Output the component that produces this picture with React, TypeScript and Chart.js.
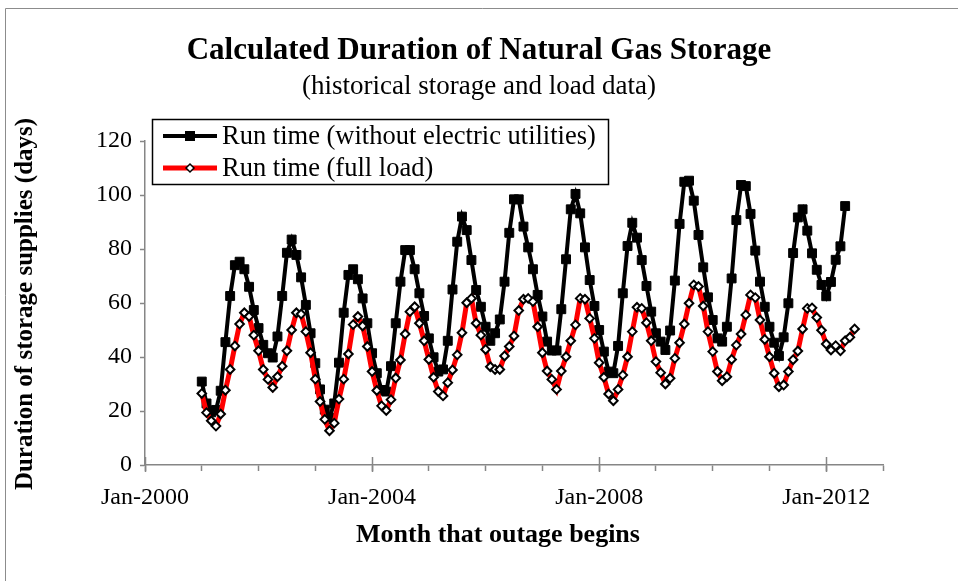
import React, { useEffect, useRef } from 'react';
import { Chart, registerables } from 'chart.js';

Chart.register(...registerables);

// months counted from Jan-2000 (0 = Jan-2000)
const seriesStartMonth = 12; // Jan-2001
const runTimeWithoutElectric = [
  30.9, 22.8, 19.5, 20.4, 27.5, 45.5, 62.6, 74, 75.3, 72.5, 66, 57.4,
  50.7, 44.5, 41.4, 39.8, 47.6, 62.6, 78.6, 83.5, 77.8, 69.5, 59.3, 48.8,
  37.7, 28, 20.5, 17.5, 22.8, 37.9, 56.4, 70.4, 72.5, 68.8, 61.7, 52.5,
  41.4, 34, 27.8, 27.2, 36.6, 52.5, 67.9, 79.6, 79.6, 72.5, 63.6, 55.2,
  46.9, 39.9, 34.6, 35.4, 46, 65, 82.7, 92, 87, 75.9, 64.8, 58.6,
  51.2, 46, 48.8, 53.9, 67.9, 86, 98.4, 98.4, 88.3, 80.6, 72.5, 63,
  55, 45.7, 42.4, 42.4, 57.7, 76.2, 94.7, 100.4, 93.2, 80.6, 68.5, 58.9,
  50, 42, 34.6, 34, 44.1, 63.6, 81.1, 89.7, 84.2, 75.9, 66.3, 56.8,
  48.8, 45.7, 42.6, 49.8, 68.3, 89.3, 104.9, 105.3, 97.9, 85.2, 73.2, 62.1,
  53.7, 46.9, 45.7, 51.2, 69.1, 90.7, 103.7, 103.3, 93, 79.4, 67.9, 58.6,
  51.2, 45.3, 40.4, 47.3, 59.9, 78.5, 91.7, 94.7, 86.8, 78.4, 72.3, 66.7,
  62.5, 67.8, 76, 81, 95.9,
];
const runTimeFullLoad = [
  26.5, 19.4, 16.4, 14.4, 18.9, 27.7, 35.4, 44.1, 52.2, 56.4, 55, 48.1,
  42.3, 35.4, 31.7, 28.7, 32.7, 36.6, 42.3, 50, 56.4, 55.9, 49.4, 41.6,
  31.8, 23.5, 16.9, 12.7, 15.5, 24.4, 31.8, 41.1, 52, 55, 51.5, 43.9,
  34.6, 27.6, 21.9, 20.2, 24.2, 32.2, 38.9, 48.5, 56.8, 58.6, 52.5, 46,
  39.1, 32.5, 27.2, 25.6, 30.5, 35.2, 40.8, 49, 60.1, 61.7, 52.5, 48.1,
  42.8, 36.4, 35.4, 35.4, 40.4, 43.9, 47.8, 57.2, 61.4, 61.7, 60.5, 51.2,
  41.6, 34.8, 31.7, 28, 34.8, 40.1, 46, 51.9, 61.7, 61.4, 54.3, 46.9,
  37.9, 32.5, 26.3, 23.8, 28, 33.3, 40.1, 49.4, 58.4, 58, 52.7, 46,
  38.3, 34.2, 30, 32.1, 39.5, 45.3, 52.2, 59.9, 66.7, 66.1, 58.9, 49.4,
  42, 34.6, 31.2, 32.7, 39.1, 44.4, 48.5, 55.6, 63, 62, 53.7, 46.5,
  40.1, 34, 29, 29.6, 34.6, 39, 42.2, 50.4, 58, 58.2, 54.6, 49.9,
  44.8, 42.6, 44.2, 42.3, 46, 47.3, 50.4,
];
const xLabelYears = [2000, 2004, 2008, 2012];
const xAxisMaxMonth = 156; // Jan-2013
const yMin = 0;
const yMax = 120;
const yStep = 20;

const seriesNames = ['Run time (without electric utilities)', 'Run time (full load)'];
const titleText = 'Calculated Duration of Natural Gas Storage';
const subtitleText = '(historical storage and load data)';
const xTitle = 'Month that outage begins';
const yTitle = 'Duration of storage supplies (days)';

const FONT = '"Liberation Serif", "Times New Roman", serif';
const AXIS_GRAY = '#868686';

const toPoints = (arr: number[]) => arr.map((v, i) => ({ x: seriesStartMonth + i, y: v }));

const decorPlugin = {
  id: 'decor',
  afterDraw(chart: any) {
    const { ctx, chartArea, scales } = chart;
    const xs = scales.x;
    ctx.save();
    // outer chart border
    ctx.strokeStyle = '#8c8c8c';
    ctx.lineWidth = 1;
    ctx.beginPath();
    ctx.moveTo(5.5, 600);
    ctx.lineTo(5.5, 8.5);
    ctx.lineTo(980, 8.5);
    ctx.stroke();

    // major ticks crossing axis
    ctx.strokeStyle = AXIS_GRAY;
    ctx.lineWidth = 1.5;
    xLabelYears.forEach((yr) => {
      const px = Math.round(xs.getPixelForValue((yr - 2000) * 12)) + 0.5;
      ctx.beginPath();
      ctx.moveTo(px, chartArea.bottom - 8);
      ctx.lineTo(px, chartArea.bottom + 7);
      ctx.stroke();
    });

    // titles
    ctx.fillStyle = '#000';
    ctx.textAlign = 'center';
    ctx.textBaseline = 'middle';
    ctx.font = `bold 31px ${FONT}`;
    ctx.fillText(titleText, 479, 51);
    ctx.font = `27px ${FONT}`;
    ctx.fillText(subtitleText, 479, 87);
    ctx.font = `bold 26px ${FONT}`;
    ctx.fillText(xTitle, 498, 535);
    ctx.font = `bold 25px ${FONT}`;
    ctx.save();
    ctx.translate(26, 304);
    ctx.rotate(-Math.PI / 2);
    ctx.fillText(yTitle, 0, 0);
    ctx.restore();

    // legend
    const bx = 152.5, by = 119.5, bw = 456, bh = 65;
    ctx.fillStyle = '#fff';
    ctx.fillRect(bx, by, bw, bh);
    ctx.strokeStyle = '#000';
    ctx.lineWidth = 1.5;
    ctx.strokeRect(bx, by, bw, bh);
    const rows = [136, 168];
    // row 1
    ctx.strokeStyle = '#000';
    ctx.lineWidth = 4;
    ctx.beginPath();
    ctx.moveTo(163, rows[0]);
    ctx.lineTo(217, rows[0]);
    ctx.stroke();
    ctx.fillStyle = '#000';
    ctx.fillRect(190 - 5, rows[0] - 5, 10, 10);
    // row 2
    ctx.strokeStyle = '#ff0000';
    ctx.lineWidth = 5;
    ctx.beginPath();
    ctx.moveTo(163, rows[1]);
    ctx.lineTo(217, rows[1]);
    ctx.stroke();
    ctx.beginPath();
    ctx.moveTo(190 - 4, rows[1]);
    ctx.lineTo(190, rows[1] - 4);
    ctx.lineTo(190 + 4, rows[1]);
    ctx.lineTo(190, rows[1] + 4);
    ctx.closePath();
    ctx.fillStyle = '#fff';
    ctx.fill();
    ctx.strokeStyle = '#000';
    ctx.lineWidth = 1.5;
    ctx.stroke();

    ctx.fillStyle = '#000';
    ctx.textAlign = 'left';
    ctx.font = `26.5px ${FONT}`;
    ctx.fillText(seriesNames[0], 222, rows[0] + 1);
    ctx.fillText(seriesNames[1], 222, rows[1] + 1);
    ctx.restore();
  },
};

export default function App() {
  const ref = useRef<HTMLCanvasElement | null>(null);
  useEffect(() => {
    document.body.style.margin = '0';
    const canvas = ref.current;
    if (!canvas) return;
    const chart = new Chart(canvas, {
      type: 'line',
      data: {
        datasets: [
          {
            label: seriesNames[1],
            data: toPoints(runTimeFullLoad),
            borderColor: '#ff0000',
            borderWidth: 5,
            pointStyle: 'rectRot',
            pointRadius: 4.3,
            pointBackgroundColor: '#ffffff',
            pointBorderColor: '#000000',
            pointBorderWidth: 2,
            tension: 0,
          },
          {
            label: seriesNames[0],
            data: toPoints(runTimeWithoutElectric),
            borderColor: '#000000',
            borderWidth: 4,
            pointStyle: 'rect',
            pointRadius: 6.3,
            pointBackgroundColor: '#000000',
            pointBorderColor: '#000000',
            pointBorderWidth: 1,
            tension: 0,
          },
        ],
      },
      options: {
        responsive: false,
        animation: false,
        devicePixelRatio: 1,
        layout: { padding: { top: 141, right: 75, left: 0, bottom: 0 } },
        plugins: { legend: { display: false }, title: { display: false }, tooltip: { enabled: false } },
        scales: {
          x: {
            type: 'linear',
            min: 0,
            max: xAxisMaxMonth,
            afterFit: (s: any) => { s.height = 116; },
            ticks: {
              stepSize: 12,
              autoSkip: false,
              maxRotation: 0,
              padding: 12,
              color: '#000',
              font: { family: FONT, size: 24 },
              callback: (v: any) => {
                const n = Number(v);
                const yr = 2000 + n / 12;
                return n % 12 === 0 && xLabelYears.includes(yr) ? `Jan-${yr}` : '';
              },
            },
            grid: {
              display: true,
              drawOnChartArea: false,
              drawTicks: true,
              tickLength: 6,
              tickColor: AXIS_GRAY,
              tickWidth: 1.5,
              color: AXIS_GRAY,
            },
            border: { display: true, color: AXIS_GRAY, width: 1.5 },
          },
          y: {
            min: yMin,
            max: yMax,
            afterFit: (s: any) => { s.width = 145; },
            ticks: {
              stepSize: yStep,
              padding: 8,
              color: '#000',
              font: { family: FONT, size: 24 },
            },
            grid: {
              display: true,
              drawOnChartArea: false,
              drawTicks: true,
              tickLength: 5,
              tickColor: AXIS_GRAY,
              tickWidth: 1.5,
              color: AXIS_GRAY,
            },
            border: { display: true, color: AXIS_GRAY, width: 1.5 },
          },
        },
      },
      plugins: [decorPlugin],
    });
    return () => chart.destroy();
  }, []);
  return (
    <div style={{ width: 958, height: 581, background: '#fff' }}>
      <canvas ref={ref} width={958} height={581} style={{ display: 'block' }} />
    </div>
  );
}
